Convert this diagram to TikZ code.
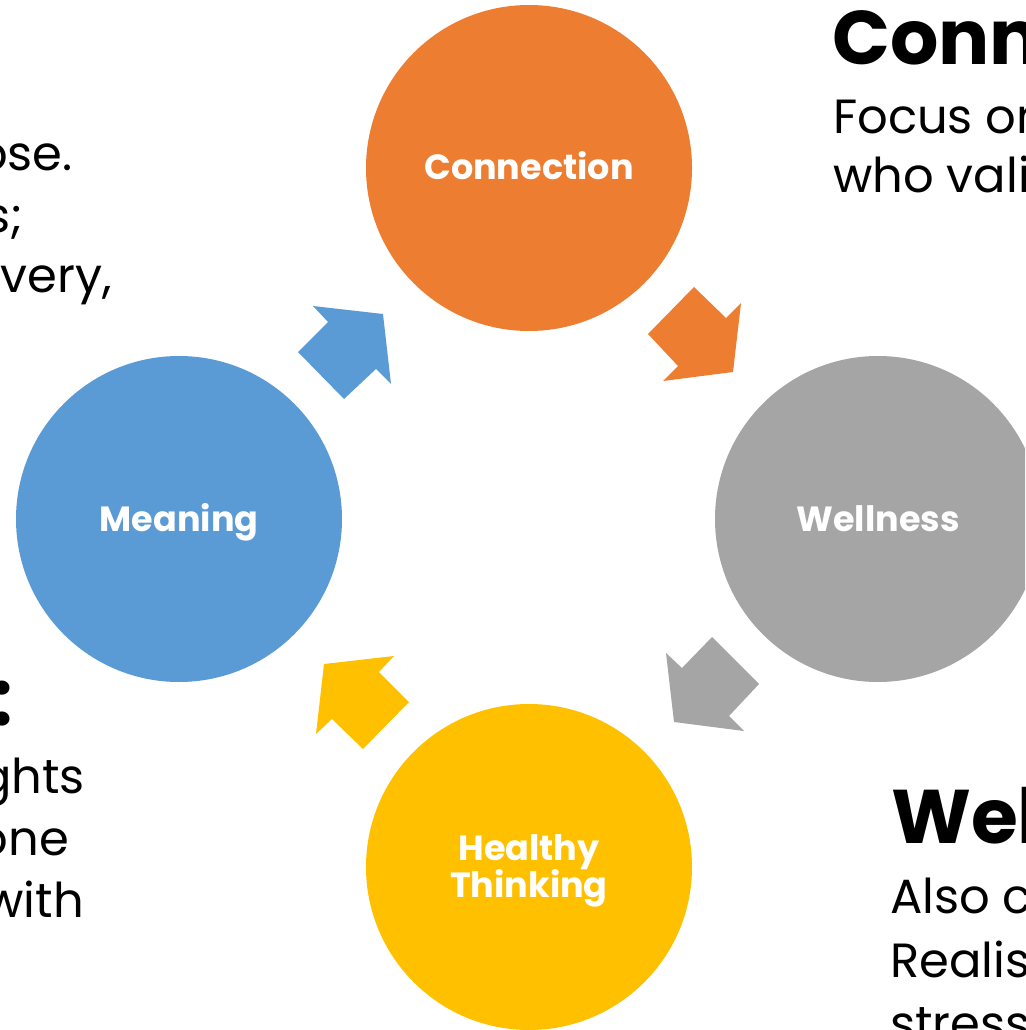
\documentclass[tikz,border=0pt]{standalone}
\usepackage{fontspec}
\setmainfont{Poppins}
\definecolor{orangeC}{HTML}{ED7D31}
\definecolor{grayC}{HTML}{A5A5A5}
\definecolor{blueC}{HTML}{5B9BD5}
\definecolor{yellowC}{HTML}{FFC000}
\begin{document}
\begin{tikzpicture}[x=1pt,y=-1pt,
  stage/.style={circle,minimum size=326pt,inner sep=0pt,draw=none},
  stagetext/.style={inner sep=0pt,text=white,anchor=base,
    font=\fontsize{35}{38}\selectfont\bfseries},
  bodytext/.style={inner sep=0pt,text=black,font=\fontsize{48}{58}\selectfont},
  headtext/.style={inner sep=0pt,text=black,font=\fontsize{76}{80}\selectfont\bfseries}]
\useasboundingbox (0,0) rectangle (1025,1030);
\clip (0,0) rectangle (1025,1030);

% the four stages of the cycle
\node[stage,fill=orangeC] (connection) at (529,168) {};
\node[stage,fill=grayC]   (wellness)   at (878,519) {};
\node[stage,fill=yellowC] (healthy)    at (529,867) {};
\node[stage,fill=blueC]   (meaning)    at (179,519) {};

\node[stagetext] (connection-text) at (529,179) {Connection};
\node[stagetext] (wellness-text)   at (878,531) {Wellness};
\node[stagetext] (meaning-text)    at (179,531) {Meaning};
\node[stagetext] (healthy-text1)   at (529,860) {Healthy};
\node[stagetext] (healthy-text2)   at (529,897) {Thinking};

% block arrows between the stages (clockwise)
\fill[orangeC] (694,287) -- (726,318) -- (741,303) -- (733,372)
  -- (663,381) -- (678,366) -- (648,334) -- cycle;
\fill[grayC] (712,637) -- (759,684) -- (729,716) -- (744,731)
  -- (674,722) -- (666,653) -- (682,668) -- cycle;
\fill[yellowC] (394,656) -- (379,672) -- (409,702) -- (363,749)
  -- (332,719) -- (316,734) -- (324,664) -- cycle;
\fill[blueC] (313,306) -- (383,314) -- (391,384) -- (376,369)
  -- (344,399) -- (298,352) -- (328,322) -- cycle;

% side descriptions running off the edges
\node[bodytext,anchor=base east] (lt1) at (73,170)  {ose.};
\node[bodytext,anchor=base east] (lt2) at (23,232)  {s;};
\node[bodytext,anchor=base east] (lt3) at (112,292) {overy,};

\node[headtext,anchor=base east] (lb0) at (13,725)  {:};
\node[bodytext,anchor=base east] (lb1) at (85,793)  {ghts};
\node[bodytext,anchor=base east] (lb2) at (69,855)  {one};
\node[bodytext,anchor=base east] (lb3) at (84,917)  {with};

\node[headtext,anchor=base west] (rt0) at (832,65)  {Conn};
\node[bodytext,anchor=base west] (rt1) at (833,133) {Focus on};
\node[bodytext,anchor=base west] (rt2) at (833,192) {who vali};

\node[headtext,anchor=base west] (rb0) at (891,843)  {Wel};
\node[bodytext,anchor=base west] (rb1) at (890,913)  {Also c};
\node[bodytext,anchor=base west] (rb2) at (890,977)  {Realist};
\node[bodytext,anchor=base west] (rb3) at (890,1040) {stress};
\end{tikzpicture}
\end{document}
